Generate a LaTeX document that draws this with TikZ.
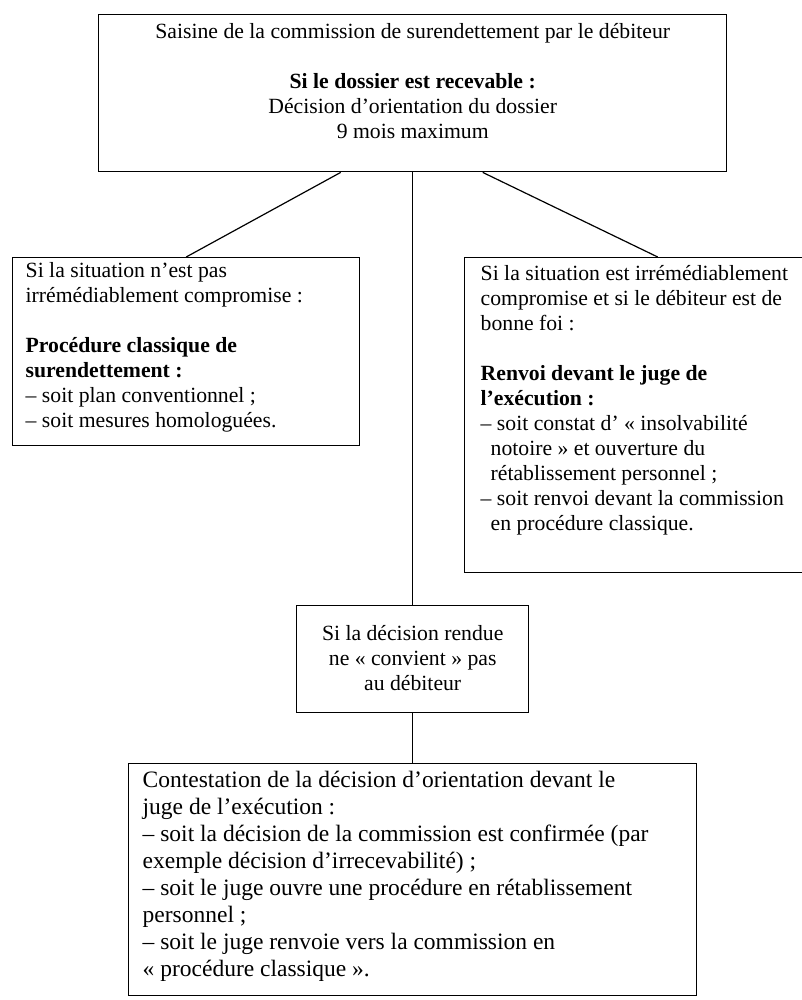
\documentclass[tikz,border=0pt]{standalone}
\usepackage{fontspec}
\setmainfont{Liberation Serif}
\newcommand{\bxc}[4]{\parbox[t][#2][t]{#1}{\vspace*{#3}\strut#4}}
\newcommand{\hang}{\hspace*{5pt}}
\begin{document}
\begin{tikzpicture}[x=0.5pt,y=-0.5pt,
  box/.style={draw, line width=0.7pt, anchor=north west, inner ysep=0pt,
    font=\fontsize{10.85}{12.5}\selectfont},
  bigbox/.style={box, font=\fontsize{11.75}{13.5}\selectfont},
  link/.style={line width=0.6pt}]
\useasboundingbox (0,0) rectangle (802,1000);

\node[box, inner xsep=0pt] (top) at (98,14)
  {\bxc{314pt}{78.5pt}{3.25pt}{\centering Saisine de la commission de surendettement par le débiteur\\[12.5pt]
   \textbf{Si le dossier est recevable~:}\\
   Décision d’orientation du dossier\\
   9~mois maximum}};

\node[box, inner xsep=6.5pt] (lft) at (12,257)
  {\bxc{160.5pt}{94pt}{1.25pt}{\raggedright Si la situation n’est pas\\
   irrémédiablement compromise~:\\[12.5pt]
   \textbf{Procédure classique de}\\
   \textbf{surendettement~:}\\
   – soit plan conventionnel~;\\
   – soit mesures homologuées.}};

\node[box, inner xsep=8pt] (rgt) at (464,257)
  {\bxc{177pt}{157.5pt}{2.75pt}{\raggedright Si la situation est irrémédiablement\\
   compromise et si le débiteur est de\\
   bonne foi~:\\[12.5pt]
   \textbf{Renvoi devant le juge de}\\
   \textbf{l’exécution~:}\\
   – soit constat d’~«~insolvabilité\\
   \hang notoire~» et ouverture du\\
   \hang rétablissement personnel~;\\
   – soit renvoi devant la commission\\
   \hang en procédure classique.}};

\node[box, inner xsep=0pt] (mid) at (296,605)
  {\bxc{116pt}{53.5pt}{8.75pt}{\centering Si la décision rendue\\
   ne «~convient~» pas\\
   au débiteur}};

\node[bigbox, inner xsep=7pt] (bot) at (128,763)
  {\bxc{270pt}{116pt}{2.55pt}{\raggedright Contestation de la décision d’orientation devant le\\
   juge de l’exécution~:\\
   – soit la décision de la commission est confirmée (par\\
   exemple décision d’irrecevabilité)~;\\
   – soit le juge ouvre une procédure en rétablissement\\
   personnel~;\\
   – soit le juge renvoie vers la commission en\\
   «~procédure classique~».}};

\draw[link] ([xshift=-36pt]top.south) -- (lft.north);
\draw[link] (top.south) -- (mid.north);
\draw[link] ([xshift=35pt]top.south) -- (rgt.north);
\draw[link] (mid.south) -- (bot.north);
\end{tikzpicture}
\end{document}
